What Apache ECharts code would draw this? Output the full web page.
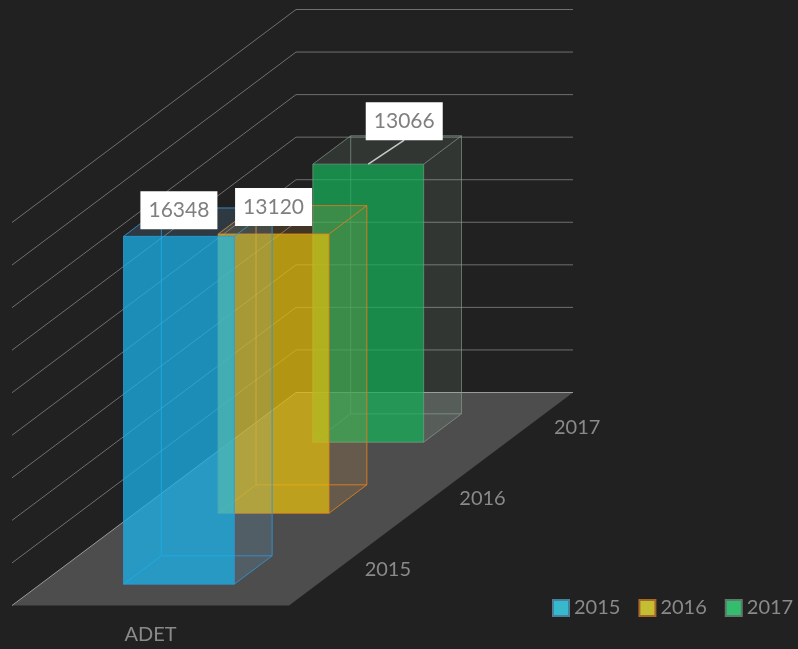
<!DOCTYPE html>
<html><head><meta charset="utf-8">
<style>html,body{margin:0;padding:0;background:#212121}#c{width:798px;height:649px}</style>
<script src="https://cdn.jsdelivr.net/npm/echarts@6/dist/echarts.min.js"></script>
</head><body><div id="c"></div>
<script>
const categories = ['ADET'];
const years = ['2015', '2016', '2017'];
const values2015 = [16348];
const values2016 = [13120];
const values2017 = [13066];
const gridValues = [0, 2000, 4000, 6000, 8000, 10000, 12000, 14000, 16000, 18000];

const valuesByYear = [values2015, values2016, values2017];
const DEPTH_X = 94.67, DEPTH_Y = 71;
const FONT = 'Lato, "Open Sans", sans-serif';
const palette = [
  {front:'rgba(21,183,240,0.70)', edge:'rgba(50,150,215,0.50)', side:'rgba(110,180,225,0.09)', legend:'#37b9cd', legendEdge:'#4a7f9c'},
  {front:'rgba(228,190,14,0.72)', edge:'rgba(215,125,30,0.60)', side:'rgba(220,150,70,0.09)', legend:'#c3be32', legendEdge:'#a8672a'},
  {front:'rgba(20,178,90,0.70)', edge:'rgba(140,160,150,0.38)', side:'rgba(150,200,170,0.07)', legend:'#32be6e', legendEdge:'#5f7a6a'}
];
const labelOffsets = [[0,-26],[0,-27],[36,-43]];
const leaderLine = [false,false,true];

function project(p, d){ return [p[0] + d*DEPTH_X, p[1] - d*DEPTH_Y]; }

const chart = echarts.init(document.getElementById('c'), null, {renderer:'canvas'});

function renderFloor(params, api){
  const c = api.coord([0,0]), w = api.size([1,0])[0];
  const l = c[0]-w/2, r = c[0]+w/2, y = c[1];
  return {type:'polygon', shape:{points:[[l,y],[r,y],project([r,y],3),project([l,y],3)]},
          style:{fill:'#4d4d4d'}};
}
function renderGrid(params, api){
  const c = api.coord([0, api.value(1)]), w = api.size([1,0])[0];
  const a = [c[0]-w/2, c[1]], b = project(a,3), e = [b[0]+w, b[1]];
  return {type:'polyline', shape:{points:[a,b,e]},
          style:{fill:null, stroke: api.value(1)===0 ? '#9a9a9a' : '#6f6f6f', lineWidth:1}};
}
function makeBar(si){
  return function(params, api){
    const cat = api.value(0), v = api.value(1);
    const base = api.coord([cat,0]), top = api.coord([cat,v]);
    const w = api.size([1,0])[0]*0.4;
    const d0 = si+0.3, d1 = si+0.7;
    const xl = base[0]-w/2, xr = base[0]+w/2;
    const P = (x,y,d)=>project([x,y],d);
    const A=P(xl,base[1],d0),B=P(xr,base[1],d0),C=P(xr,top[1],d0),D=P(xl,top[1],d0);
    const E=P(xl,base[1],d1),F=P(xr,base[1],d1),G=P(xr,top[1],d1),H=P(xl,top[1],d1);
    const col = palette[si];
    const face=(pts,fill)=>({type:'polygon',shape:{points:pts},
      style:{fill:fill,stroke:col.edge,lineWidth:1}});
    return {type:'group',children:[
      face([E,F,G,H],col.side),
      face([A,E,H,D],col.side),
      face([A,B,F,E],col.side),
      face([B,F,G,C],col.side),
      face([D,C,G,H],col.side),
      face([A,B,C,D],col.front)
    ]};
  };
}
function renderLabel(params, api){
  const si = api.value(2), off = labelOffsets[si];
  const c = api.coord([api.value(0), api.value(1)]);
  const p = project(c, si+0.3);
  const cx = p[0]+off[0], cy = p[1]+off[1];
  const children = [];
  if (leaderLine[si]) children.push({type:'line',shape:{x1:p[0],y1:p[1],x2:cx,y2:cy+19},
      style:{stroke:'#c8c8c8',lineWidth:1.5}});
  children.push({type:'rect',shape:{x:cx-38.5,y:cy-19,width:77,height:38},style:{fill:'#ffffff'}});
  children.push({type:'text',style:{text:String(api.value(1)),x:cx,y:cy,align:'center',verticalAlign:'middle',
      fill:'#7f7f7f',font:'21px '+FONT}});
  return {type:'group',children};
}
function renderDepthLabel(params, api){
  const c = api.coord([0,0]), w = api.size([1,0])[0];
  const p = project([c[0]+w/2,c[1]], api.value(2)+0.5);
  return {type:'text',style:{text:years[api.value(2)],x:p[0]+51.5,y:p[1],align:'center',verticalAlign:'middle',
      fill:'#8a8a8a',font:'20px '+FONT}};
}

const barSeries = years.map((y,si)=>({
  type:'custom', name:y, coordinateSystem:'cartesian2d', z:5-si, clip:false,
  renderItem:makeBar(si), encode:{x:0,y:1},
  itemStyle:{color:palette[si].legend,borderColor:palette[si].legendEdge,borderWidth:1},
  data:valuesByYear[si].map((v,i)=>[i,v])
}));

chart.setOption({
  backgroundColor:'#212121',
  animation:false,
  grid:{left:12,top:222.5,width:277,height:383,containLabel:false},
  xAxis:{type:'category',data:categories,axisLine:{show:false},axisTick:{show:false},splitLine:{show:false},
    axisLabel:{color:'#8a8a8a',fontSize:20,fontFamily:FONT,margin:19}},
  yAxis:{type:'value',min:0,max:18000,interval:2000,show:false},
  legend:{data:years,left:552,top:598,itemWidth:16,itemHeight:16,itemGap:18,icon:'rect',padding:0,
    textStyle:{color:'#8a8a8a',fontSize:20,fontFamily:FONT}},
  series:[
    {type:'custom',name:'floor',z:1,clip:false,renderItem:renderFloor,encode:{x:0,y:1},silent:true,data:[[0,0]]},
    {type:'custom',name:'grid',z:2,clip:false,renderItem:renderGrid,encode:{x:0,y:1},silent:true,
      data:gridValues.map(v=>[0,v])},
    ...barSeries,
    {type:'custom',name:'depthLabels',z:9,clip:false,renderItem:renderDepthLabel,encode:{x:0,y:1},silent:true,
      data:years.map((y,i)=>[0,0,i])},
    {type:'custom',name:'labels',z:10,clip:false,renderItem:renderLabel,encode:{x:0,y:1},silent:true,
      data:valuesByYear.map((vals,i)=>[0,vals[0],i])}
  ]
});
</script></body></html>
